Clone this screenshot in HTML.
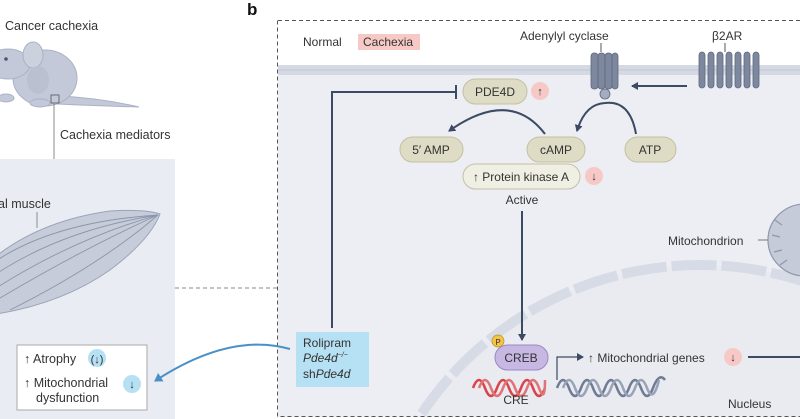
<!DOCTYPE html>
<html><head><meta charset="utf-8"><style>
html,body{margin:0;padding:0;background:#fff;width:800px;height:419px;overflow:hidden;}
svg{display:block;font-family:"Liberation Sans",sans-serif;overflow:hidden;}
</style></head><body>
<svg width="800" height="419" viewBox="0 0 800 419" xmlns="http://www.w3.org/2000/svg">
<defs>
<marker id="ah" markerWidth="8" markerHeight="8" refX="6" refY="4" orient="auto" markerUnits="userSpaceOnUse"><path d="M0,0 L7,4 L0,8 Z" fill="#3d4a63"/></marker>
<marker id="ahb" markerWidth="10" markerHeight="10" refX="7" refY="5" orient="auto" markerUnits="userSpaceOnUse"><path d="M0,0 L8,5 L0,10 Z" fill="#4a90c8"/></marker>
<clipPath id="bclip"><rect x="278" y="20" width="522" height="397"/></clipPath>
<clipPath id="lclip"><rect x="0" y="0" width="175" height="419"/></clipPath>
</defs>
<text x="5" y="30" font-size="12.5" fill="#333">Cancer cachexia</text>
<g clip-path="url(#lclip)">
<g fill="#c3c9d8" stroke="#aab2c6" stroke-width="1">
<path d="M60,96 Q100,98 139,107 Q100,106 58,104 Z"/>
<ellipse cx="45" cy="78" rx="32" ry="28"/>
<ellipse cx="8" cy="64" rx="22" ry="15"/>
<ellipse cx="33" cy="55" rx="10" ry="13" fill="#ccd1de"/>
<ellipse cx="40" cy="103" rx="10" ry="4"/>
<ellipse cx="6" cy="98" rx="8" ry="4"/>
<ellipse cx="38" cy="80" rx="11" ry="14" fill="#b9c0d0" stroke="none"/>
</g>
<circle cx="6" cy="59" r="1.8" fill="#556"/>
</g>
<rect x="51" y="95" width="8" height="8" fill="none" stroke="#555" stroke-width="0.8"/>
<line x1="54" y1="103" x2="54" y2="159" stroke="#888" stroke-width="1"/>
<text x="60" y="139" font-size="12.5" fill="#333">Cachexia mediators</text>
<rect x="0" y="159" width="175" height="260" fill="#e9ecf2"/>
<text x="-2" y="208" font-size="12.5" fill="#333">al muscle</text>
<line x1="37" y1="212" x2="37" y2="228" stroke="#777" stroke-width="0.8"/>
<g clip-path="url(#lclip)">
<path d="M-20,270 Q30,222 110,211 Q145,209 160,214 Q150,240 110,270 Q60,305 -10,315 Z" fill="#c6ccd9" stroke="#9aa3b8" stroke-width="1"/>
<g fill="none" stroke="#8c95ab" stroke-width="0.9">
<path d="M-10,265 Q50,222 158,215"/><path d="M-10,278 Q60,230 158,215"/><path d="M-10,292 Q70,240 158,215"/><path d="M-10,304 Q80,250 158,215"/><path d="M10,310 Q100,265 158,215"/>
</g>
</g>
<line x1="175" y1="288" x2="277" y2="288" stroke="#888" stroke-width="1" stroke-dasharray="4,3"/>
<rect x="17" y="345" width="130" height="65" fill="#fff" stroke="#aaa" stroke-width="1"/>
<text x="24" y="363" font-size="12.5" fill="#333">↑ Atrophy</text>
<circle cx="97" cy="358" r="9" fill="#b6e0f3"/><text x="97" y="363" font-size="11" text-anchor="middle" fill="#333">(↓)</text>
<text x="24" y="387" font-size="12.5" fill="#333">↑ Mitochondrial</text>
<text x="36" y="402" font-size="12.5" fill="#333">dysfunction</text>
<circle cx="132" cy="384" r="9" fill="#b6e0f3"/><text x="132" y="388" font-size="11" text-anchor="middle" fill="#333">↓</text>
<text x="247" y="15" font-size="17" font-weight="bold" fill="#111">b</text>
<g clip-path="url(#bclip)">
<rect x="278" y="70" width="522" height="349" fill="#eceef3"/>
<rect x="278" y="65" width="522" height="10" fill="#d4d9e3"/>
<line x1="278" y1="70" x2="800" y2="70" stroke="#c0c7d4" stroke-width="1"/>
<circle cx="700" cy="600" r="335" fill="#e9ebf0" stroke="#d6dbe5" stroke-width="10" stroke-dasharray="45,5"/>
<ellipse cx="805" cy="240" rx="37" ry="36" fill="#c5cbd8" stroke="#8e97ab" stroke-width="1.2"/>
<g stroke="#8e97ab" stroke-width="1.2"><line x1="772" y1="235" x2="780" y2="237"/><line x1="775" y1="220" x2="782" y2="225"/><line x1="774" y1="252" x2="782" y2="250"/><line x1="780" y1="265" x2="787" y2="260"/></g>
<line x1="758" y1="240" x2="768" y2="240" stroke="#777"/>
<line x1="748" y1="357" x2="800" y2="357" stroke="#3d4a63" stroke-width="2"/>
</g>
<path d="M278,20.5 H800 M277.5,20.5 V416.5 H800" fill="none" stroke="#555" stroke-width="1" stroke-dasharray="4,3"/>
<text x="303" y="46" font-size="12" fill="#333">Normal</text>
<rect x="358" y="34" width="62" height="16" fill="#f7c9c6"/>
<text x="363" y="46" font-size="12" fill="#333">Cachexia</text>
<text x="520" y="40" font-size="12" fill="#333">Adenylyl cyclase</text>
<line x1="601" y1="43" x2="601" y2="52" stroke="#555"/>
<g fill="#7d889f" stroke="#5e6880" stroke-width="0.8">
<rect x="591" y="53" width="7" height="36" rx="3"/><rect x="598" y="53" width="7" height="36" rx="3"/><rect x="605" y="53" width="7" height="36" rx="3"/><rect x="612" y="53" width="6" height="36" rx="3"/>
<circle cx="605" cy="94" r="5" fill="#a4adbf"/>
</g>
<text x="712" y="40" font-size="12" fill="#333">β2AR</text>
<line x1="725" y1="43" x2="725" y2="52" stroke="#555"/>
<g fill="#7d889f" stroke="#5e6880" stroke-width="0.8">
<rect x="699" y="52" width="6" height="36" rx="3"/><rect x="708" y="52" width="6" height="36" rx="3"/><rect x="717" y="52" width="6" height="36" rx="3"/><rect x="726" y="52" width="6" height="36" rx="3"/><rect x="735" y="52" width="6" height="36" rx="3"/><rect x="744" y="52" width="6" height="36" rx="3"/><rect x="753" y="52" width="6" height="36" rx="3"/>
</g>
<line x1="687" y1="86" x2="632" y2="86" stroke="#3d4a63" stroke-width="2" marker-end="url(#ah)"/>
<path d="M332,328 L332,92 L456,92" fill="none" stroke="#3d4a63" stroke-width="2"/>
<line x1="456" y1="85" x2="456" y2="99" stroke="#3d4a63" stroke-width="2"/>
<rect x="463" y="79" width="64" height="25" rx="12.5" fill="#dfdcc6" stroke="#c4c0a2"/>
<text x="495" y="96" font-size="12" text-anchor="middle" fill="#333">PDE4D</text>
<circle cx="540" cy="91" r="9" fill="#f7c9c6"/><text x="540" y="95" font-size="11" text-anchor="middle" fill="#333">↑</text>
<path d="M545,134 Q510,88 449,131" fill="none" stroke="#3d4a63" stroke-width="2" marker-end="url(#ah)"/>
<path d="M636,134 Q630,100 605,103 Q585,104 577,131" fill="none" stroke="#3d4a63" stroke-width="2" marker-end="url(#ah)"/>
<rect x="400" y="137" width="63" height="25" rx="12.5" fill="#dfdcc6" stroke="#c4c0a2"/>
<text x="431" y="154" font-size="12" text-anchor="middle" fill="#333">5′ AMP</text>
<rect x="527" y="137" width="58" height="25" rx="12.5" fill="#dfdcc6" stroke="#c4c0a2"/>
<text x="556" y="154" font-size="12" text-anchor="middle" fill="#333">cAMP</text>
<rect x="625" y="137" width="51" height="25" rx="12.5" fill="#dfdcc6" stroke="#c4c0a2"/>
<text x="650" y="154" font-size="12" text-anchor="middle" fill="#333">ATP</text>
<rect x="463" y="164" width="117" height="25" rx="12.5" fill="#f0efe3" stroke="#c4c0a2"/>
<text x="521" y="181" font-size="12" text-anchor="middle" fill="#333">↑ Protein kinase A</text>
<circle cx="594" cy="176" r="9" fill="#f7c9c6"/><text x="594" y="180" font-size="11" text-anchor="middle" fill="#333">↓</text>
<text x="522" y="204" font-size="12" text-anchor="middle" fill="#333">Active</text>
<line x1="522" y1="211" x2="522" y2="340" stroke="#3d4a63" stroke-width="2" marker-end="url(#ah)"/>
<text x="668" y="245" font-size="12" fill="#333">Mitochondrion</text>
<g fill="none" stroke-width="2.5">
<path d="M473,388 q6,-16 12,0 t12,0 t12,0 t12,0 t12,0 t12,0" stroke="#d9434a"/>
<path d="M479,388 q6,-16 12,0 t12,0 t12,0 t12,0 t12,0 t6,-8" stroke="#e07377"/>
<path d="M557,388 q6,-16 12,0 t12,0 t12,0 t12,0 t12,0 t12,0 t12,0 t12,0 t12,-8" stroke="#6f7c94"/>
<path d="M563,388 q6,-16 12,0 t12,0 t12,0 t12,0 t12,0 t12,0 t12,0 t12,-8" stroke="#98a3b8"/>
</g>
<rect x="495" y="345" width="53" height="25" rx="12.5" fill="#c6b8e2" stroke="#9a89c4"/>
<text x="521" y="362" font-size="12" text-anchor="middle" fill="#333">CREB</text>
<circle cx="498" cy="341" r="6" fill="#f3c44a" stroke="#b8901a" stroke-width="0.7"/>
<text x="498" y="345" font-size="8" text-anchor="middle" fill="#333">P</text>
<path d="M557,380 L557,357 L583,357" fill="none" stroke="#3d4a63" stroke-width="1.2" marker-end="url(#ah)"/>
<text x="588" y="362" font-size="12" fill="#333">↑ Mitochondrial genes</text>
<circle cx="733" cy="357" r="9" fill="#f7c9c6"/><text x="733" y="361" font-size="11" text-anchor="middle" fill="#333">↓</text>
<text x="516" y="404" font-size="12" text-anchor="middle" fill="#333">CRE</text>
<text x="728" y="408" font-size="12" fill="#333">Nucleus</text>
<rect x="296" y="332" width="73" height="55" fill="#b6e0f3"/>
<text x="303" y="347" font-size="12" fill="#333">Rolipram</text>
<text x="303" y="362" font-size="12" fill="#333" font-style="italic">Pde4d<tspan font-size="7" dy="-5">−/−</tspan></text>
<text x="303" y="378" font-size="12" fill="#333">sh<tspan font-style="italic">Pde4d</tspan></text>
<path d="M290,349 Q230,332 155,381" fill="none" stroke="#4a90c8" stroke-width="2" marker-end="url(#ahb)"/>
</svg>
</body></html>
